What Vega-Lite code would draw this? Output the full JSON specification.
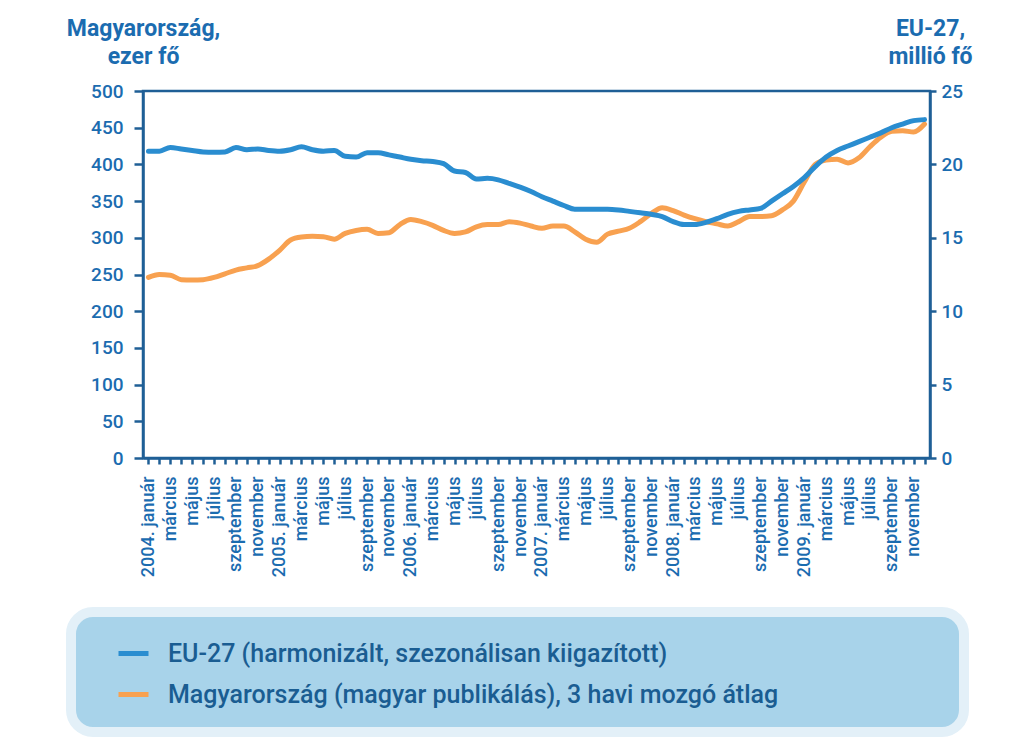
{
  "$schema": "https://vega.github.io/schema/vega-lite/v6.json",
  "autosize": {"type": "none"},
  "width": 787,
  "height": 367,
  "padding": {"left": 143, "top": 91, "right": 95, "bottom": 292},
  "background": "#ffffff",
  "data": {"values": [
    {"m": "2004-01", "eu": 20.9, "hu": 246},
    {"m": "2004-02", "eu": 20.9, "hu": 250},
    {"m": "2004-03", "eu": 21.15, "hu": 249},
    {"m": "2004-04", "eu": 21.05, "hu": 243},
    {"m": "2004-05", "eu": 20.95, "hu": 242.5},
    {"m": "2004-06", "eu": 20.85, "hu": 243},
    {"m": "2004-07", "eu": 20.83, "hu": 246},
    {"m": "2004-08", "eu": 20.85, "hu": 251},
    {"m": "2004-09", "eu": 21.15, "hu": 256},
    {"m": "2004-10", "eu": 21.0, "hu": 259},
    {"m": "2004-11", "eu": 21.05, "hu": 262},
    {"m": "2004-12", "eu": 20.95, "hu": 271},
    {"m": "2005-01", "eu": 20.9, "hu": 283},
    {"m": "2005-02", "eu": 21.0, "hu": 297},
    {"m": "2005-03", "eu": 21.2, "hu": 301},
    {"m": "2005-04", "eu": 21.0, "hu": 302},
    {"m": "2005-05", "eu": 20.9, "hu": 301.5},
    {"m": "2005-06", "eu": 20.95, "hu": 298},
    {"m": "2005-07", "eu": 20.55, "hu": 306},
    {"m": "2005-08", "eu": 20.5, "hu": 310},
    {"m": "2005-09", "eu": 20.8, "hu": 311.5},
    {"m": "2005-10", "eu": 20.8, "hu": 306},
    {"m": "2005-11", "eu": 20.65, "hu": 307},
    {"m": "2005-12", "eu": 20.5, "hu": 318},
    {"m": "2006-01", "eu": 20.35, "hu": 325},
    {"m": "2006-02", "eu": 20.25, "hu": 322},
    {"m": "2006-03", "eu": 20.2, "hu": 317},
    {"m": "2006-04", "eu": 20.05, "hu": 310},
    {"m": "2006-05", "eu": 19.55, "hu": 306},
    {"m": "2006-06", "eu": 19.45, "hu": 308},
    {"m": "2006-07", "eu": 19.0, "hu": 315},
    {"m": "2006-08", "eu": 19.05, "hu": 318},
    {"m": "2006-09", "eu": 18.95, "hu": 318},
    {"m": "2006-10", "eu": 18.7, "hu": 322},
    {"m": "2006-11", "eu": 18.45, "hu": 320},
    {"m": "2006-12", "eu": 18.15, "hu": 316},
    {"m": "2007-01", "eu": 17.8, "hu": 313},
    {"m": "2007-02", "eu": 17.5, "hu": 316},
    {"m": "2007-03", "eu": 17.2, "hu": 316},
    {"m": "2007-04", "eu": 16.95, "hu": 308},
    {"m": "2007-05", "eu": 16.95, "hu": 298},
    {"m": "2007-06", "eu": 16.95, "hu": 294},
    {"m": "2007-07", "eu": 16.95, "hu": 305},
    {"m": "2007-08", "eu": 16.9, "hu": 309},
    {"m": "2007-09", "eu": 16.8, "hu": 313},
    {"m": "2007-10", "eu": 16.7, "hu": 322},
    {"m": "2007-11", "eu": 16.6, "hu": 333},
    {"m": "2007-12", "eu": 16.45, "hu": 341},
    {"m": "2008-01", "eu": 16.1, "hu": 337},
    {"m": "2008-02", "eu": 15.9, "hu": 331},
    {"m": "2008-03", "eu": 15.9, "hu": 326},
    {"m": "2008-04", "eu": 16.05, "hu": 322},
    {"m": "2008-05", "eu": 16.3, "hu": 319},
    {"m": "2008-06", "eu": 16.6, "hu": 316},
    {"m": "2008-07", "eu": 16.8, "hu": 322},
    {"m": "2008-08", "eu": 16.9, "hu": 329},
    {"m": "2008-09", "eu": 17.0, "hu": 329},
    {"m": "2008-10", "eu": 17.5, "hu": 330},
    {"m": "2008-11", "eu": 18.0, "hu": 338},
    {"m": "2008-12", "eu": 18.5, "hu": 350},
    {"m": "2009-01", "eu": 19.1, "hu": 376},
    {"m": "2009-02", "eu": 19.85, "hu": 400},
    {"m": "2009-03", "eu": 20.5, "hu": 406},
    {"m": "2009-04", "eu": 20.95, "hu": 407},
    {"m": "2009-05", "eu": 21.25, "hu": 402},
    {"m": "2009-06", "eu": 21.55, "hu": 409},
    {"m": "2009-07", "eu": 21.85, "hu": 424},
    {"m": "2009-08", "eu": 22.15, "hu": 437},
    {"m": "2009-09", "eu": 22.5, "hu": 445},
    {"m": "2009-10", "eu": 22.75, "hu": 446},
    {"m": "2009-11", "eu": 22.98, "hu": 444},
    {"m": "2009-12", "eu": 23.05, "hu": 455}
  ]},
  "encoding": {
    "x": {
      "field": "m", "type": "ordinal", "sort": null,
      "scale": {"type": "point", "padding": 0.5},
      "axis": {
        "title": null,
        "labelAngle": 270,
        "labelFontSize": 18,
        "labelPadding": 12,
        "tickSize": 6,
        "labelOverlap": false,
        "labelExpr": "toNumber(substring(datum.value,5,7)) % 2 == 0 ? '' : (substring(datum.value,5,7) == '01' ? substring(datum.value,0,4) + '. január' : ['','','március','','május','','július','','szeptember','','november'][toNumber(substring(datum.value,5,7)) - 1])"
      }
    }
  },
  "layer": [
    {
      "mark": {"type": "line", "strokeWidth": 5, "strokeCap": "round", "strokeJoin": "round", "interpolate": "monotone"},
      "encoding": {
        "y": {
          "field": "hu", "type": "quantitative",
          "scale": {"domain": [0, 500], "nice": false, "zero": true},
          "axis": {
            "orient": "left",
            "values": [0, 50, 100, 150, 200, 250, 300, 350, 400, 450, 500],
            "title": ["Magyarország,", "ezer fő"],
            "titleAngle": 0, "titleAlign": "center", "titleBaseline": "alphabetic",
            "titleX": 0, "titleY": -56, "titleLineHeight": 28,
            "tickSize": 9, "labelPadding": 11
          }
        },
        "color": {
          "datum": "Magyarország (magyar publikálás), 3 havi mozgó átlag",
          "scale": {
            "domain": ["EU-27 (harmonizált, szezonálisan kiigazított)", "Magyarország (magyar publikálás), 3 havi mozgó átlag"],
            "range": ["#2a8dd0", "#f8a150"]
          },
          "legend": {
            "title": "\u2800\u2800\u2800\u2800\u2800\u2800\u2800\u2800\u2800",
            "titleOrient": "right",
            "titlePadding": 0,
            "titleFontSize": 25,
            "titleColor": "#a8d3ea"
          }
        }
      }
    },
    {
      "mark": {"type": "line", "strokeWidth": 5, "strokeCap": "round", "strokeJoin": "round", "interpolate": "monotone"},
      "encoding": {
        "y": {
          "field": "eu", "type": "quantitative",
          "scale": {"domain": [0, 25], "nice": false, "zero": true},
          "axis": {
            "orient": "right",
            "values": [0, 5, 10, 15, 20, 25],
            "title": ["EU-27,", "millió fő"],
            "titleAngle": 0, "titleAlign": "center", "titleBaseline": "alphabetic",
            "titleX": 0, "titleY": -56, "titleLineHeight": 28,
            "tickSize": 6, "labelPadding": 5
          }
        },
        "color": {"datum": "EU-27 (harmonizált, szezonálisan kiigazított)"}
      }
    }
  ],
  "resolve": {"scale": {"y": "independent"}},
  "config": {
    "font": "Roboto",
    "view": {"stroke": "#1f5f96", "strokeWidth": 2.5},
    "axis": {
      "grid": false,
      "domainColor": "#1f5f96", "domainWidth": 2.5,
      "tickColor": "#1f5f96", "tickWidth": 2.5,
      "labelColor": "#1b6cb0", "labelFont": "Roboto", "labelFontSize": 19, "labelFontWeight": 500,
      "titleColor": "#1b6cb0", "titleFont": "Roboto", "titleFontSize": 23, "titleFontWeight": "bold"
    },
    "legend": {
      "orient": "none",
      "legendX": -72,
      "legendY": 521,
      "fillColor": "#a8d3ea",
      "strokeColor": "#e3f0f8",
      "strokeWidth": 10,
      "cornerRadius": 22,
      "padding": 24,
      "symbolOffset": 21,
      "symbolType": "stroke",
      "symbolSize": 900,
      "symbolStrokeWidth": 5,
      "labelFont": "Roboto",
      "labelFontSize": 25,
      "labelFontWeight": 500,
      "labelColor": "#1a5d92",
      "labelOffset": 17,
      "labelLimit": 900,
      "rowPadding": 10
    }
  }
}
